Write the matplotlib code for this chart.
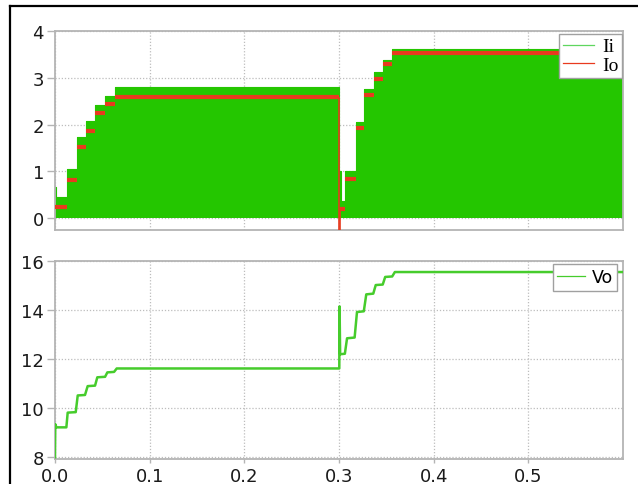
import matplotlib
matplotlib.use("Agg")
import matplotlib.pyplot as plt
from matplotlib.lines import Line2D
import numpy as np

# ---- Input current Ii: peak of the switching waveform (it switches between 0 and this level)
ii_t = [0.0, 0.0015, 0.0125, 0.0230, 0.0325, 0.0425, 0.0530, 0.0635,
        0.3005, 0.3020, 0.3066, 0.3175, 0.3265, 0.3365, 0.3465, 0.3565, 0.6]
ii_peak = [0.67, 0.45, 1.05, 1.74, 2.08, 2.42, 2.62, 2.80,
           1.00, 0.38, 1.02, 2.06, 2.77, 3.12, 3.39, 3.62, 3.62]

# ---- Output current Io (stepped)
io_t = [0.0, 0.0125, 0.0230, 0.0325, 0.0425, 0.0530, 0.0635,
        0.3003, 0.3010, 0.3066, 0.3175, 0.3265, 0.3365, 0.3465, 0.3565, 0.6]
io_val = [0.24, 0.82, 1.53, 1.87, 2.24, 2.44, 2.60,
          -1.00, 0.20, 0.83, 1.92, 2.64, 2.98, 3.30, 3.53, 3.53]

# ---- Output voltage Vo
vo_t = [0.0, 0.0003, 0.0015, 0.0120, 0.0134, 0.0219, 0.0240, 0.0317, 0.0345,
        0.0423, 0.0447, 0.0529, 0.0553, 0.0624, 0.0652, 0.3003, 0.3006, 0.3012,
        0.3062, 0.3085, 0.3165, 0.3190, 0.3262, 0.3288, 0.3362, 0.3388,
        0.3462, 0.3488, 0.3562, 0.3590, 0.6]
vo_val = [8.0, 9.35, 9.22, 9.22, 9.82, 9.84, 10.52, 10.54, 10.90,
          10.92, 11.26, 11.28, 11.46, 11.48, 11.62, 11.62, 14.15, 12.20,
          12.22, 12.85, 12.88, 13.92, 13.95, 14.64, 14.67, 15.02,
          15.04, 15.35, 15.37, 15.55, 15.55]

x_ticks = [0.0, 0.1, 0.2, 0.3, 0.4, 0.5]
x_tick_labels = ["0.0", "0.1", "0.2", "0.3", "0.4", "0.5"]
top_y_ticks = [0, 1, 2, 3, 4]
bottom_y_ticks = [8, 10, 12, 14, 16]

GREEN = "#24c600"
GREEN_LINE = "#46cc2c"
RED = "#e83a1e"
SPINE = "#b4b4b4"
GRID = "#bdbdbd"

W, H = 638, 485
fig = plt.figure(figsize=(W / 100, H / 100), dpi=100)
fig.patch.set_facecolor("white")

ax1 = fig.add_axes([55 / W, 1 - 231 / H, (623 - 55) / W, (231 - 32) / H])
ax2 = fig.add_axes([55 / W, 1 - 460 / H, (623 - 55) / W, (460 - 262) / H])


def style(ax):
    for s in ax.spines.values():
        s.set_color(SPINE)
        s.set_linewidth(1.3)
    ax.grid(True, color=GRID, linestyle=(0, (1, 1.5)), linewidth=0.9)
    ax.set_axisbelow(True)
    ax.tick_params(axis="both", colors=SPINE, labelcolor="#1a1a1a",
                   labelsize=13, length=6, width=1, pad=2)
    ax.set_xlim(0, 0.6)
    ax.set_xticks(x_ticks)


# Top panel: Ii and Io
style(ax1)
ax1.fill_between(ii_t, 0, ii_peak, step="post", color=GREEN, linewidth=0, zorder=2)
ax1.plot(ii_t, ii_peak, drawstyle="steps-post", color=GREEN, linewidth=0.8, zorder=2)

# Io: flat levels, with the sharp dip at the load change drawn as a vertical stroke
ax1.hlines(io_val[:-1], io_t[:-1], io_t[1:], color=RED, linewidth=3.0, zorder=3)
dip = int(np.argmin(io_val))
ax1.vlines(io_t[dip], io_val[dip], io_val[dip - 1], color=RED, linewidth=1.2, zorder=3)
ax1.vlines(io_t[dip + 1], io_val[dip], io_val[dip + 1], color=RED, linewidth=1.2, zorder=3)

ax1.set_ylim(-0.25, 4.0)
ax1.set_yticks(top_y_ticks)
ax1.set_xticklabels([])
ax1.tick_params(axis="x", length=0)

h_ii = Line2D([], [], color="#5fd65f", linewidth=0.9)
h_io = Line2D([], [], color=RED, linewidth=0.9)
leg1 = ax1.legend([h_ii, h_io], ["Ii", "Io"], loc="upper right",
                  bbox_to_anchor=(0.999, 0.985), borderaxespad=0.0,
                  prop={"family": "Liberation Serif", "size": 14},
                  handlelength=1.6, handletextpad=0.4, labelspacing=0.05,
                  borderpad=0.2, fancybox=False, framealpha=1.0)
leg1.get_frame().set_edgecolor("#a0a0a0")
leg1.get_frame().set_linewidth(1.0)
leg1.set_zorder(5)

# Bottom panel: Vo
style(ax2)
ax2.plot(vo_t, vo_val, color=GREEN_LINE, linewidth=1.8, zorder=3)
ax2.set_ylim(7.93, 16.0)
ax2.set_yticks(bottom_y_ticks)
ax2.set_xticklabels(x_tick_labels)
ax2.tick_params(axis="x", length=3, pad=2.5)

h_vo = Line2D([], [], color=GREEN_LINE, linewidth=0.9)
leg2 = ax2.legend([h_vo], ["Vo"], loc="upper right",
                  bbox_to_anchor=(0.99, 0.985), borderaxespad=0.0,
                  prop={"family": "DejaVu Sans", "size": 12.5},
                  handlelength=1.6, handletextpad=0.4,
                  borderpad=0.25, fancybox=False, framealpha=1.0)
leg2.get_frame().set_edgecolor("#a0a0a0")
leg2.get_frame().set_linewidth(1.0)
leg2.set_zorder(5)

# Outer frame (left and top edges)
fig.add_artist(Line2D([10 / W, 10 / W], [0, 1 - 7 / H], transform=fig.transFigure,
                      color="black", linewidth=1.6))
fig.add_artist(Line2D([10 / W, 1], [1 - 7 / H, 1 - 7 / H], transform=fig.transFigure,
                      color="black", linewidth=1.6))

fig.savefig("out.png", dpi=100)
